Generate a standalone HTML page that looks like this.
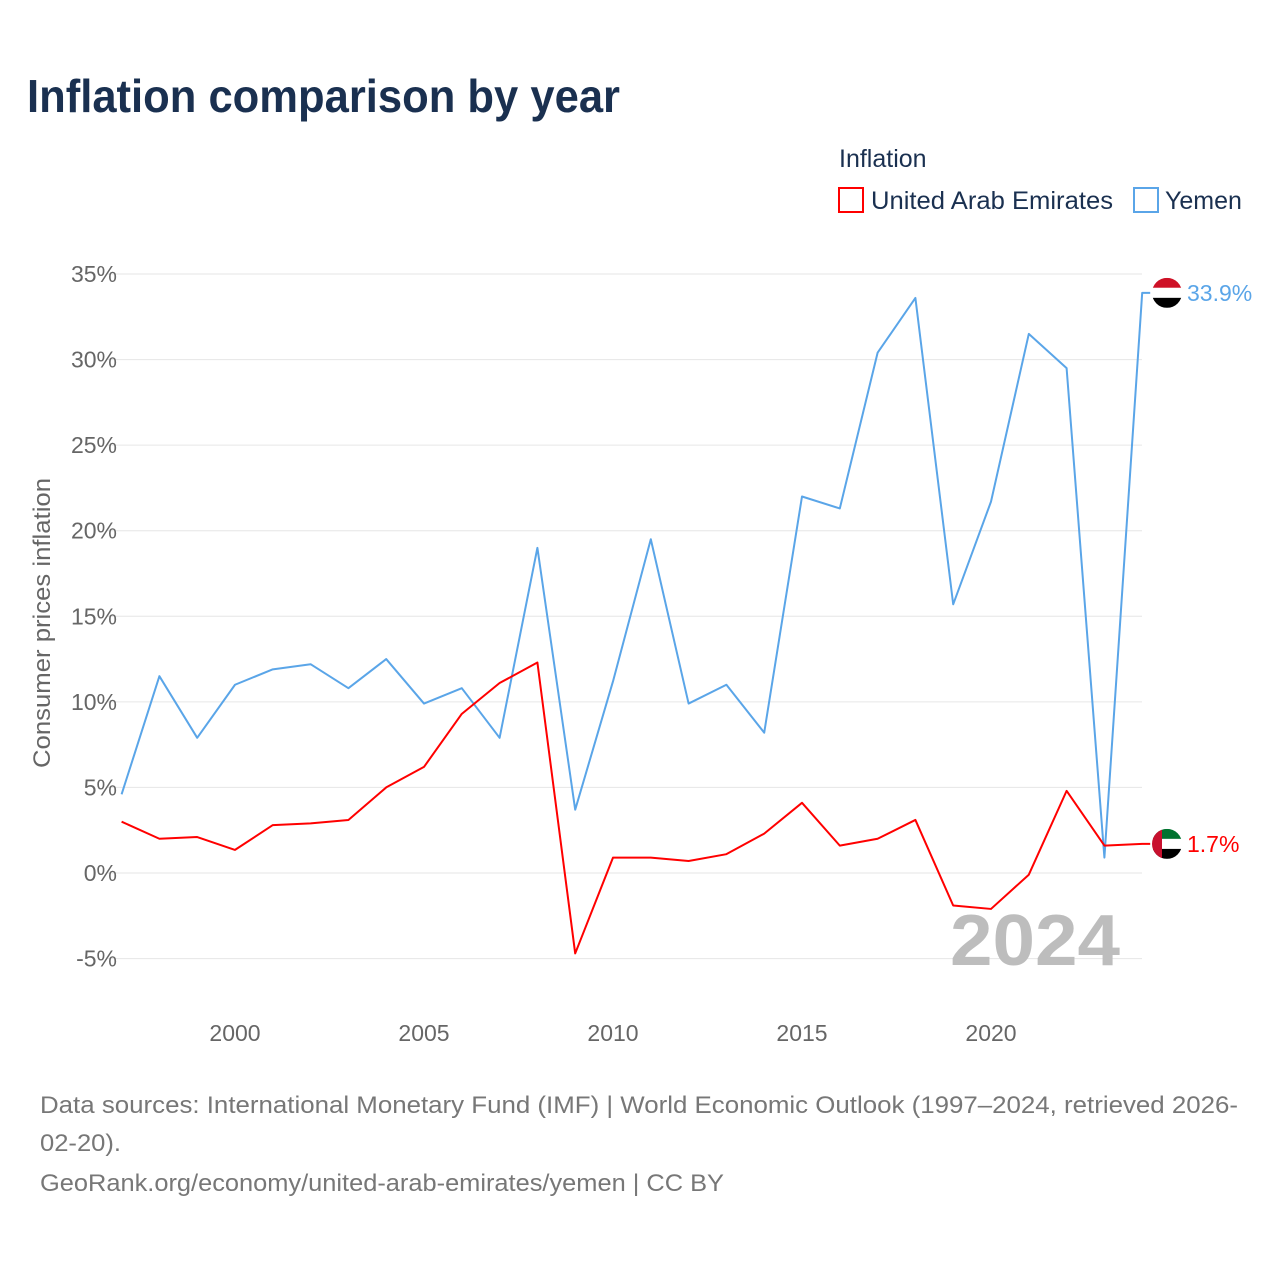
<!DOCTYPE html>
<html><head><meta charset="utf-8">
<style>
body{margin:0;background:#fff;font-family:"Liberation Sans",sans-serif;}
#wrap{position:relative;width:1280px;height:1280px;overflow:hidden;}
</style></head>
<body><div id="wrap">
<svg id="chart" width="1280" height="1280" xmlns="http://www.w3.org/2000/svg">
<text x="27" y="112" font-size="46" font-weight="bold" fill="#1a3050" textLength="593" lengthAdjust="spacingAndGlyphs">Inflation comparison by year</text>
<text x="839" y="167" font-size="25" fill="#1a3050">Inflation</text>
<g><rect x="839" y="188" width="24" height="24" fill="none" stroke="#ff0000" stroke-width="2"/><text x="871" y="209" font-size="25" fill="#1a3050" textLength="242" lengthAdjust="spacingAndGlyphs">United Arab Emirates</text></g>
<g><rect x="1134" y="188" width="24" height="24" fill="none" stroke="#5aa5e8" stroke-width="2"/><text x="1165" y="209" font-size="25" fill="#1a3050">Yemen</text></g>
<g id="grid"></g><g id="yticks"></g><g id="xticks"></g>
<text x="1120" y="965" font-size="72" font-weight="bold" fill="#bdbdbd" text-anchor="end" textLength="170" lengthAdjust="spacingAndGlyphs">2024</text>
<g id="lines"></g>
<text transform="translate(50,623) rotate(-90)" font-size="24" fill="#666" text-anchor="middle" textLength="290" lengthAdjust="spacingAndGlyphs">Consumer prices inflation</text>
<g font-size="24" fill="#777">
<text x="40" y="1113" textLength="1198" lengthAdjust="spacingAndGlyphs">Data sources: International Monetary Fund (IMF) | World Economic Outlook (1997–2024, retrieved 2026-</text>
<text x="40" y="1151" textLength="81" lengthAdjust="spacingAndGlyphs">02-20).</text>
<text x="40" y="1191" textLength="684" lengthAdjust="spacingAndGlyphs">GeoRank.org/economy/united-arab-emirates/yemen | CC BY</text>
</g>
</svg>
<script>
const years=[1997,1998,1999,2000,2001,2002,2003,2004,2005,2006,2007,2008,2009,2010,2011,2012,2013,2014,2015,2016,2017,2018,2019,2020,2021,2022,2023,2024];
const uae=[3.0,2.0,2.1,1.35,2.8,2.9,3.1,5.0,6.2,9.3,11.1,12.3,-4.7,0.9,0.9,0.7,1.1,2.3,4.1,1.6,2.0,3.1,-1.9,-2.1,-0.1,4.8,1.6,1.7];
const yemen=[4.6,11.5,7.9,11.0,11.9,12.2,10.8,12.5,9.9,10.8,7.9,19.0,3.7,11.2,19.5,9.9,11.0,8.2,22.0,21.3,30.4,33.6,15.7,21.7,31.5,29.5,0.9,33.9];
const yTicks=[-5,0,5,10,15,20,25,30,35];
const xTicks=[2000,2005,2010,2015,2020];
const NS="http://www.w3.org/2000/svg";
const X=y=>121.6+(y-1997)*37.8, Y=v=>873-v*17.114;
function mk(t,a,p){const e=document.createElementNS(NS,t);for(const k in a)e.setAttribute(k,a[k]);p.appendChild(e);return e;}
const grid=document.getElementById('grid'),yt=document.getElementById('yticks'),xt=document.getElementById('xticks'),ln=document.getElementById('lines');
yTicks.forEach(v=>{
 const l=mk('line',{x1:108,x2:1142,y1:Y(v),y2:Y(v),stroke:'#e6e6e6','stroke-width':1},grid);
 
 
 const t=mk('text',{x:117,y:Y(v)+8,'font-size':23,fill:'#666','text-anchor':'end'},yt);t.textContent=v+'%';
 
 
});
xTicks.forEach(v=>{
 const t=mk('text',{x:X(v),y:1041,'font-size':23,fill:'#666','text-anchor':'middle'},xt);t.textContent=v;
 
 
});
function series(vals,color,name){
 const pts=vals.map((v,i)=>X(years[i])+','+Y(v));
 const last=vals[vals.length-1];
 pts.push((X(years[years.length-1])+8)+','+Y(last));
 const p=mk('polyline',{points:pts.join(' '),fill:'none',stroke:color,'stroke-width':2,'stroke-linejoin':'round'},ln);
 
 
 const t=mk('text',{x:1187,y:Y(last)+8,'font-size':23,fill:color},ln);t.textContent=last.toFixed(1)+'%';
 
 
 return Y(last);
}
const yy=series(yemen,'#5aa5e8','yemen');
const uy=series(uae,'#ff0000','uae');
function flag(cy,kind){
 const g=mk('g',{},ln);
 
 
 const id='c'+kind;
 const cp=mk('clipPath',{id:id},g);mk('circle',{cx:1167,cy:cy,r:15},cp);
 const h=mk('g',{'clip-path':'url(#'+id+')'},g);
 if(kind==='yemen'){
  mk('rect',{x:1152,y:cy-15,width:30,height:10,fill:'#ce1126'},h);
  mk('rect',{x:1152,y:cy-5,width:30,height:10,fill:'#fff'},h);
  mk('rect',{x:1152,y:cy+5,width:30,height:10,fill:'#000'},h);
 }else{
  mk('rect',{x:1152,y:cy-15,width:30,height:10,fill:'#00732f'},h);
  mk('rect',{x:1152,y:cy-5,width:30,height:10,fill:'#fff'},h);
  mk('rect',{x:1152,y:cy+5,width:30,height:10,fill:'#000'},h);
  mk('rect',{x:1152,y:cy-15,width:10,height:30,fill:'#c8102e'},h);
 }
}
flag(yy,'yemen');flag(uy,'uae');
</script>
</div></body></html>
